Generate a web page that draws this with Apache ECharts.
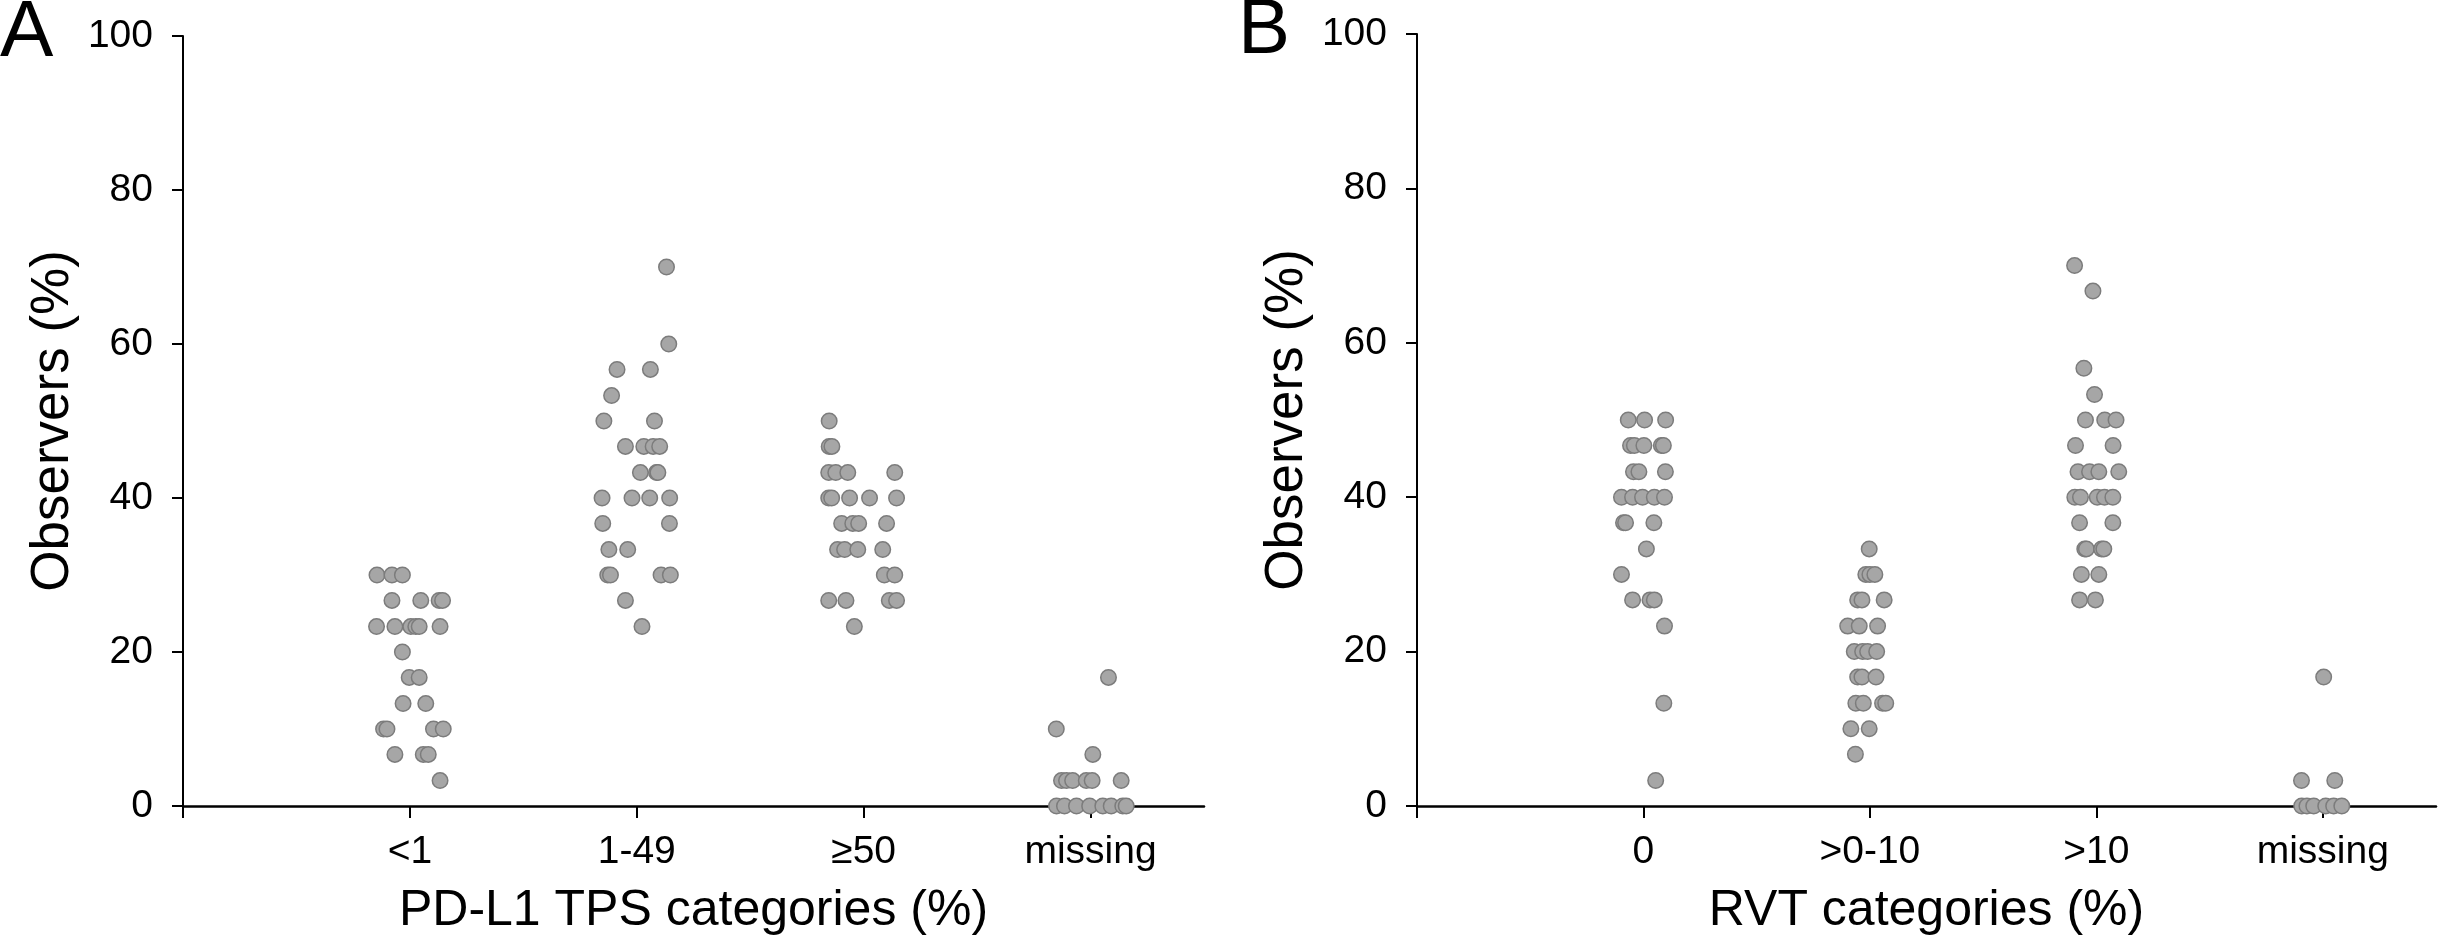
<!DOCTYPE html>
<html>
<head>
<meta charset="utf-8">
<script src="https://cdn.jsdelivr.net/npm/echarts@6/dist/echarts.min.js"></script>
<style>
  html, body { margin: 0; padding: 0; background: #fff; }
  #grafico { width: 2440px; height: 941px; }
</style>
</head>
<body>
<div id="grafico"></div>
<script>
// categorias de cada panel
const categoriasTPS = ['<1', '1-49', '≥50', 'missing'];
const categoriasRVT = ['0', '>0-10', '>10', 'missing'];
const ticksY = [0, 20, 40, 60, 80, 100];

// puntos: [desplazamiento (jitter, en unidades de categoria), observadores %]
const tpsMenor1 = [
  [-0.145, 30], [-0.079, 30], [-0.033, 30],
  [-0.079, 26.7], [0.048, 26.7], [0.129, 26.7], [0.144, 26.7],
  [-0.147, 23.3], [-0.066, 23.3], [0.004, 23.3], [0.026, 23.3], [0.041, 23.3], [0.133, 23.3],
  [-0.033, 20],
  [-0.003, 16.7], [0.041, 16.7],
  [-0.030, 13.3], [0.070, 13.3],
  [-0.116, 10], [-0.101, 10], [0.104, 10], [0.147, 10],
  [-0.066, 6.7], [0.059, 6.7], [0.081, 6.7],
  [0.133, 3.3]
];
const tps1a49 = [
  [0.131, 70],
  [0.141, 60],
  [-0.087, 56.7], [0.060, 56.7],
  [-0.111, 53.3],
  [-0.145, 50], [0.078, 50],
  [-0.050, 46.7], [0.031, 46.7], [0.072, 46.7], [0.101, 46.7],
  [0.016, 43.3], [0.087, 43.3], [0.093, 43.3],
  [-0.153, 40], [-0.021, 40], [0.057, 40], [0.145, 40],
  [-0.150, 36.7], [0.144, 36.7],
  [-0.123, 33.3], [-0.040, 33.3],
  [-0.128, 30], [-0.116, 30], [0.107, 30], [0.148, 30],
  [-0.050, 26.7],
  [0.023, 23.3]
];
const tpsMayor50 = [
  [-0.152, 50],
  [-0.152, 46.7], [-0.140, 46.7],
  [-0.154, 43.3], [-0.123, 43.3], [-0.070, 43.3], [0.137, 43.3],
  [-0.154, 40], [-0.141, 40], [-0.062, 40], [0.026, 40], [0.145, 40],
  [-0.097, 36.7], [-0.048, 36.7], [-0.022, 36.7], [0.101, 36.7],
  [-0.115, 33.3], [-0.084, 33.3], [-0.026, 33.3], [0.084, 33.3],
  [0.091, 30], [0.137, 30],
  [-0.154, 26.7], [-0.078, 26.7], [0.113, 26.7], [0.145, 26.7],
  [-0.041, 23.3]
];
const tpsMissing = [
  [0.079, 16.7],
  [-0.151, 10],
  [0.010, 6.7],
  [-0.128, 3.3], [-0.106, 3.3], [-0.079, 3.3], [-0.019, 3.3], [0.007, 3.3], [0.135, 3.3],
  [-0.150, 0], [-0.115, 0], [-0.062, 0], [-0.004, 0], [0.054, 0], [0.091, 0], [0.142, 0], [0.157, 0]
];

const rvt0 = [
  [-0.067, 50], [0.005, 50], [0.098, 50],
  [-0.057, 46.7], [-0.040, 46.7], [0.002, 46.7], [0.079, 46.7], [0.088, 46.7],
  [-0.044, 43.3], [-0.020, 43.3], [0.097, 43.3],
  [-0.097, 40], [-0.048, 40], [-0.004, 40], [0.048, 40], [0.093, 40],
  [-0.088, 36.7], [-0.079, 36.7], [0.046, 36.7],
  [0.013, 33.3],
  [-0.097, 30],
  [-0.048, 26.7], [0.029, 26.7], [0.048, 26.7],
  [0.093, 23.3],
  [0.090, 13.3],
  [0.054, 3.3]
];
const rvt0a10 = [
  [-0.003, 33.3],
  [-0.018, 30], [0.000, 30], [0.022, 30],
  [-0.054, 26.7], [-0.035, 26.7], [0.063, 26.7],
  [-0.098, 23.3], [-0.047, 23.3], [0.034, 23.3],
  [-0.069, 20], [-0.032, 20], [-0.010, 20], [0.030, 20],
  [-0.054, 16.7], [-0.035, 16.7], [0.027, 16.7],
  [-0.062, 13.3], [-0.029, 13.3], [0.056, 13.3], [0.070, 13.3],
  [-0.084, 10], [-0.003, 10],
  [-0.064, 6.7]
];
const rvtMayor10 = [
  [-0.096, 70],
  [-0.015, 66.7],
  [-0.055, 56.7],
  [-0.008, 53.3],
  [-0.048, 50], [0.037, 50], [0.087, 50],
  [-0.092, 46.7], [0.074, 46.7],
  [-0.081, 43.3], [-0.030, 43.3], [0.011, 43.3], [0.099, 43.3],
  [-0.095, 40], [-0.070, 40], [0.004, 40], [0.036, 40], [0.073, 40],
  [-0.074, 36.7], [0.073, 36.7],
  [-0.051, 33.3], [-0.044, 33.3], [0.023, 33.3], [0.033, 33.3],
  [-0.066, 30], [0.011, 30],
  [-0.074, 26.7], [-0.004, 26.7]
];
const rvtMissing = [
  [0.004, 16.7],
  [-0.094, 3.3], [0.053, 3.3],
  [-0.093, 0], [-0.070, 0], [-0.040, 0], [0.013, 0], [0.048, 0], [0.084, 0]
];

const panelTPS = [tpsMenor1, tps1a49, tpsMayor50, tpsMissing];
const panelRVT = [rvt0, rvt0a10, rvtMayor10, rvtMissing];

const fuente = 'Liberation Sans, Arial, sans-serif';

// cada punto se coloca en (indice de categoria + jitter, valor)
const aPuntos = panel => panel.flatMap((grupo, i) =>
  grupo.map(([dx, v]) => [i + 1 + dx, v])
);

const ejeX = (idx, etiquetas, titulo) => ({
  type: 'value',
  gridIndex: idx,
  min: 0,
  max: 4.5,
  interval: 1,
  name: titulo,
  nameLocation: 'middle',
  nameGap: 80,
  nameTextStyle: { fontSize: 50, color: '#000', fontFamily: fuente },
  axisLine: { show: true, onZero: false, lineStyle: { color: '#000', width: 2.5 } },
  axisTick: { show: true, length: 12, customValues: [0, 1, 2, 3, 4], lineStyle: { color: '#000', width: 2 } },
  axisLabel: {
    customValues: [1, 2, 3, 4],
    formatter: v => etiquetas[Math.round(v) - 1] || '',
    fontSize: 39,
    color: '#000',
    fontFamily: fuente,
    margin: 27
  },
  splitLine: { show: false }
});

const ejeY = idx => ({
  type: 'value',
  gridIndex: idx,
  min: 0,
  max: 100,
  interval: 20,
  name: 'Observers (%)',
  nameLocation: 'middle',
  nameGap: 103,
  nameTextStyle: { fontSize: 53, color: '#000', fontFamily: fuente },
  axisLine: { show: true, lineStyle: { color: '#000', width: 2 } },
  axisTick: { show: true, length: 11, lineStyle: { color: '#000', width: 2 } },
  axisLabel: { fontSize: 39, color: '#000', fontFamily: fuente, margin: 30 },
  splitLine: { show: false }
});

const estiloPunto = {
  color: '#a6a6a6',
  borderColor: '#7c7c7c',
  borderWidth: 1.5,
  opacity: 1
};

const miGrafico = echarts.init(document.getElementById('grafico'));

miGrafico.setOption({
  animation: false,
  backgroundColor: '#fff',
  grid: [
    { left: 183, right: 1236, top: 36, bottom: 133 },
    { left: 1417, right: 4, top: 34, bottom: 134 }
  ],
  xAxis: [
    ejeX(0, categoriasTPS, 'PD-L1 TPS categories (%)'),
    ejeX(1, categoriasRVT, 'RVT categories (%)')
  ],
  yAxis: [ejeY(0), ejeY(1)],
  graphic: [
    { type: 'text', left: 0, top: -6, style: { text: 'A', font: '80px ' + fuente, fill: '#000' } },
    { type: 'text', left: 1238, top: -8, style: { text: 'B', font: '78px ' + fuente, fill: '#000' } }
  ],
  series: [
    {
      type: 'scatter',
      xAxisIndex: 0,
      yAxisIndex: 0,
      symbol: 'circle',
      symbolSize: 15.5,
      itemStyle: estiloPunto,
      data: aPuntos(panelTPS)
    },
    {
      type: 'scatter',
      xAxisIndex: 1,
      yAxisIndex: 1,
      symbol: 'circle',
      symbolSize: 15.5,
      itemStyle: estiloPunto,
      data: aPuntos(panelRVT)
    }
  ]
});
</script>
</body>
</html>
